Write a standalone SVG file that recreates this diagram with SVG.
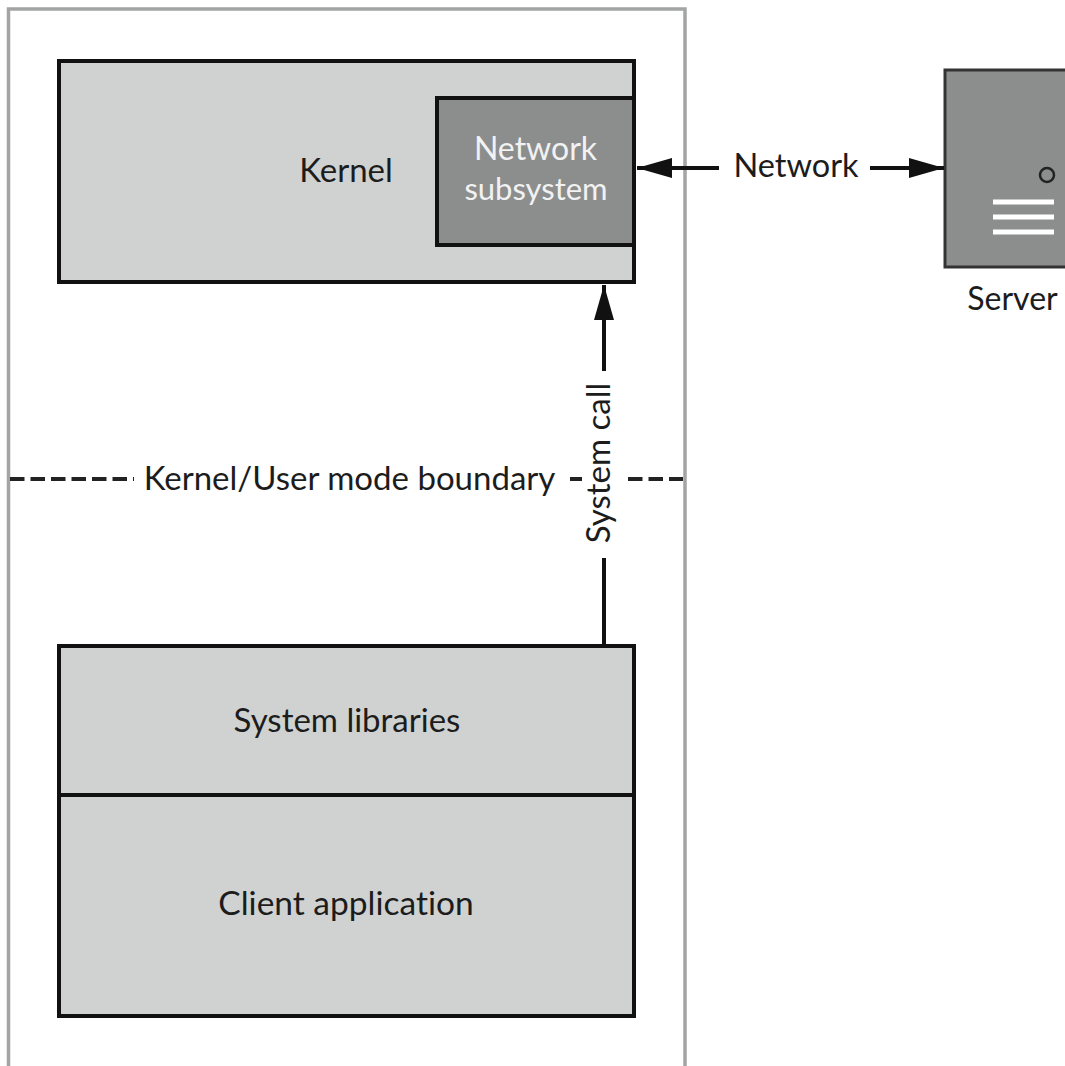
<svg xmlns="http://www.w3.org/2000/svg" width="1065" height="1066" viewBox="0 0 1065 1066">
<style>
.t{font-family:"Lato","Liberation Sans",sans-serif;font-size:33px;fill:#1c1c1c;text-anchor:middle;font-variant-ligatures:none}
.w{fill:#f2f2f2}
.light{fill:#cfd2d1;stroke:#111;stroke-width:4}
.dark{fill:#8c8e8e;stroke:#111;stroke-width:4}
.c{stroke:#111;stroke-width:4;fill:none}
.d{stroke:#222;stroke-width:4;fill:none;stroke-dasharray:14.5 6}
</style>
<defs>
<marker id="a" markerUnits="userSpaceOnUse" markerWidth="36" markerHeight="24" refX="35" refY="12" orient="auto-start-reverse"><path d="M0 2L35 12L0 22Z" fill="#111"/></marker>
</defs>
<rect width="1065" height="1066" fill="#fff"/>
<g id="frame"><path d="M8.5 1066V9H685V1066" fill="none" stroke="#a3a5a5" stroke-width="3.5"/></g>
<g id="kernel"><rect class="light" x="59" y="61" width="575" height="221"/><text class="t" x="346" y="182">Kernel</text></g>
<g id="network-subsystem"><rect class="dark" x="437" y="98" width="197" height="147"/><text class="t w" x="535.5" y="160" style="font-size:32px">Network</text><text class="t w" x="536" y="200" style="font-size:31px">subsystem</text></g>
<g id="server"><rect x="945" y="70" width="130" height="197" fill="#8c8e8e" stroke="#333" stroke-width="3"/><circle cx="1047" cy="175" r="7" fill="none" stroke="#222" stroke-width="2.5"/><path d="M993 202H1054M993 217H1054M993 232H1054" stroke="#fff" stroke-width="5"/><text class="t" x="1012.5" y="310" style="font-size:32px">Server</text></g>
<g id="system-libraries"><rect class="light" x="59" y="646" width="575" height="149"/><text class="t" x="347" y="732">System libraries</text></g>
<g id="client-application"><rect class="light" x="59" y="795" width="575" height="221"/><text class="t" x="346" y="915" style="font-size:33.5px">Client application</text></g>
<g id="connectors">
<path class="c" d="M719 168H637" marker-end="url(#a)"/>
<path class="c" d="M870 168H944" marker-end="url(#a)"/>
<path class="c" d="M604 371V285" marker-end="url(#a)"/>
<path class="c" d="M604 646V558"/>
<path class="d" d="M10 479H134"/>
<path class="d" d="M570 479H582"/>
<path class="d" d="M628 479H683"/>
</g>
<text class="t" x="349.5" y="490">Kernel/User mode boundary</text>
<text class="t" x="796" y="177" style="font-size:32.5px">Network</text>
<text class="t" transform="translate(610 463) rotate(-90)">System call</text>
</svg>
